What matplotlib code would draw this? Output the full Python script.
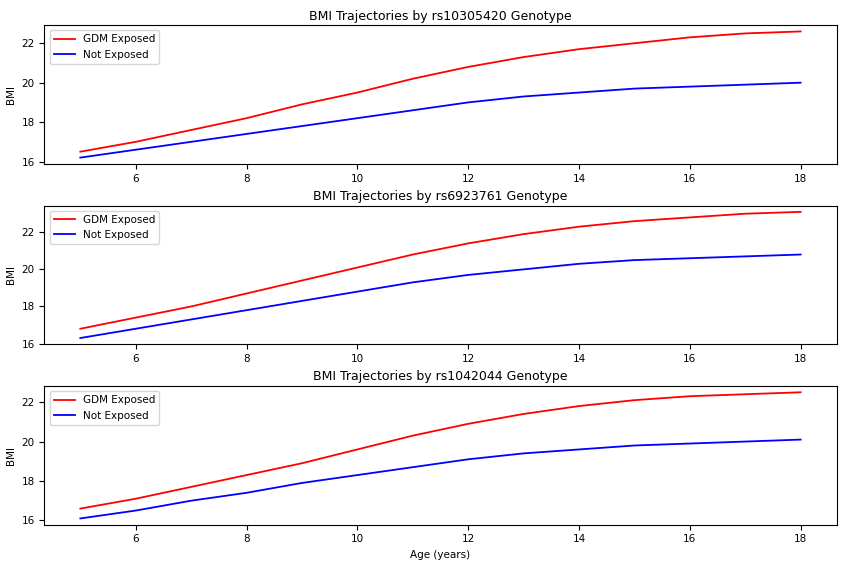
import matplotlib
matplotlib.use("Agg")
import matplotlib.pyplot as plt

ages = list(range(5, 19))
snps = ["rs10305420", "rs6923761", "rs1042044"]

gdm_rs10305420 = [16.5, 17.0, 17.6, 18.2, 18.9, 19.5, 20.2, 20.8, 21.3, 21.7, 22.0, 22.3, 22.5, 22.6]
not_rs10305420 = [16.2, 16.6, 17.0, 17.4, 17.8, 18.2, 18.6, 19.0, 19.3, 19.5, 19.7, 19.8, 19.9, 20.0]

gdm_rs6923761 = [16.8, 17.4, 18.0, 18.7, 19.4, 20.1, 20.8, 21.4, 21.9, 22.3, 22.6, 22.8, 23.0, 23.1]
not_rs6923761 = [16.3, 16.8, 17.3, 17.8, 18.3, 18.8, 19.3, 19.7, 20.0, 20.3, 20.5, 20.6, 20.7, 20.8]

gdm_rs1042044 = [16.6, 17.1, 17.7, 18.3, 18.9, 19.6, 20.3, 20.9, 21.4, 21.8, 22.1, 22.3, 22.4, 22.5]
not_rs1042044 = [16.1, 16.5, 17.0, 17.4, 17.9, 18.3, 18.7, 19.1, 19.4, 19.6, 19.8, 19.9, 20.0, 20.1]

gdm = [gdm_rs10305420, gdm_rs6923761, gdm_rs1042044]
not_exp = [not_rs10305420, not_rs6923761, not_rs1042044]

fig, axes = plt.subplots(3, 1, figsize=(8.52, 5.71), dpi=100)
fig.subplots_adjust(left=0.052, right=0.982, top=0.956, bottom=0.081, hspace=0.30)

for i in range(3):
    ax = axes[i]
    ax.plot(ages, gdm[i], color="red", label="GDM Exposed", lw=1.3)
    ax.plot(ages, not_exp[i], color="blue", label="Not Exposed", lw=1.3)
    ax.set_title("BMI Trajectories by %s Genotype" % snps[i], fontsize=9, pad=4)
    ax.set_ylabel("BMI", fontsize=7.5)
    ax.tick_params(labelsize=7.5)
    ax.set_yticks([16, 18, 20, 22])
    ax.legend(loc="upper left", fontsize=7.5)

axes[2].set_xlabel("Age (years)", fontsize=7.5)

plt.savefig("out.png")
